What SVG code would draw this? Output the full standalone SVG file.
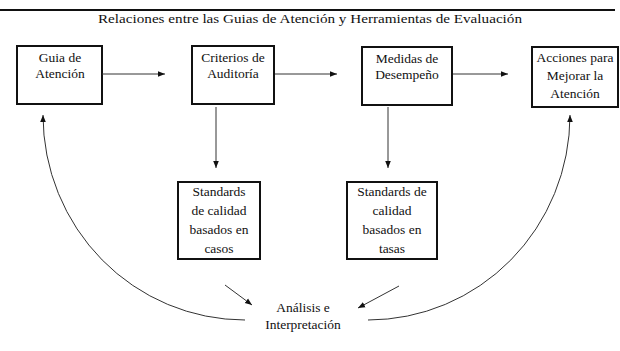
<svg xmlns="http://www.w3.org/2000/svg" width="620" height="351" viewBox="0 0 620 351">
<style>
.box{fill:#fff;stroke:#111;stroke-width:2}
.t{font-family:"Liberation Serif","Times New Roman",serif;font-size:13.5px;fill:#111;text-anchor:middle}
.c{fill:none;stroke:#333;stroke-width:1}
</style>
<defs>
<marker id="ah" viewBox="0 0 10 10" refX="10" refY="5" markerWidth="7" markerHeight="7" markerUnits="userSpaceOnUse" orient="auto">
<path d="M0,1 L10,5 L0,9 Z" fill="#111"/>
</marker>
</defs>
<rect width="620" height="351" fill="#fff"/>
<line x1="0" y1="10" x2="615" y2="10" stroke="#111" stroke-width="2"/>
<text class="t" x="310" y="23" textLength="424" lengthAdjust="spacingAndGlyphs">Relaciones entre las Guias de Atención y Herramientas de Evaluación</text>

<g id="guia">
<rect class="box" x="17" y="46" width="85" height="58"/>
<text class="t" x="60" y="62">Guia de</text>
<text class="t" x="60" y="78">Atención</text>
</g>
<g id="criterios">
<rect class="box" x="192" y="46" width="82" height="58"/>
<text class="t" x="233" y="62">Criterios de</text>
<text class="t" x="233" y="78">Auditoría</text>
</g>
<g id="medidas">
<rect class="box" x="362" y="47" width="90" height="58"/>
<text class="t" x="407" y="63">Medidas de</text>
<text class="t" x="407" y="79">Desempeño</text>
</g>
<g id="acciones">
<rect class="box" x="532" y="47" width="86" height="60"/>
<text class="t" x="575" y="62">Acciones para</text>
<text class="t" x="575" y="80">Mejorar la</text>
<text class="t" x="575" y="98">Atención</text>
</g>
<g id="std-casos">
<rect class="box" x="178" y="182" width="82" height="77"/>
<text class="t" x="219" y="196">Standards</text>
<text class="t" x="219" y="215">de calidad</text>
<text class="t" x="219" y="234">basados en</text>
<text class="t" x="219" y="253">casos</text>
</g>
<g id="std-tasas">
<rect class="box" x="347" y="182" width="90" height="77"/>
<text class="t" x="392" y="196">Standards de</text>
<text class="t" x="392" y="215">calidad</text>
<text class="t" x="392" y="234">basados en</text>
<text class="t" x="392" y="253">tasas</text>
</g>
<g id="analisis">
<text class="t" x="303" y="312">Análisis e</text>
<text class="t" x="303" y="329">Interpretación</text>
</g>

<g id="connectors">
<line class="c" x1="102" y1="74" x2="165" y2="74" marker-end="url(#ah)"/>
<line class="c" x1="275" y1="74" x2="337" y2="74" marker-end="url(#ah)"/>
<line class="c" x1="453" y1="74" x2="508" y2="74" marker-end="url(#ah)"/>
<line class="c" x1="216" y1="107" x2="216" y2="168" marker-end="url(#ah)"/>
<line class="c" x1="388" y1="107" x2="388" y2="168" marker-end="url(#ah)"/>
<line class="c" x1="225" y1="285" x2="252" y2="305" marker-end="url(#ah)"/>
<line class="c" x1="399" y1="286" x2="358" y2="308" marker-end="url(#ah)"/>
<path class="c" d="M245,320 A202,205 0 0 1 43,115" marker-end="url(#ah)"/>
<path class="c" d="M368,320 A202,205 0 0 0 570,115" marker-end="url(#ah)"/>
</g>
</svg>
